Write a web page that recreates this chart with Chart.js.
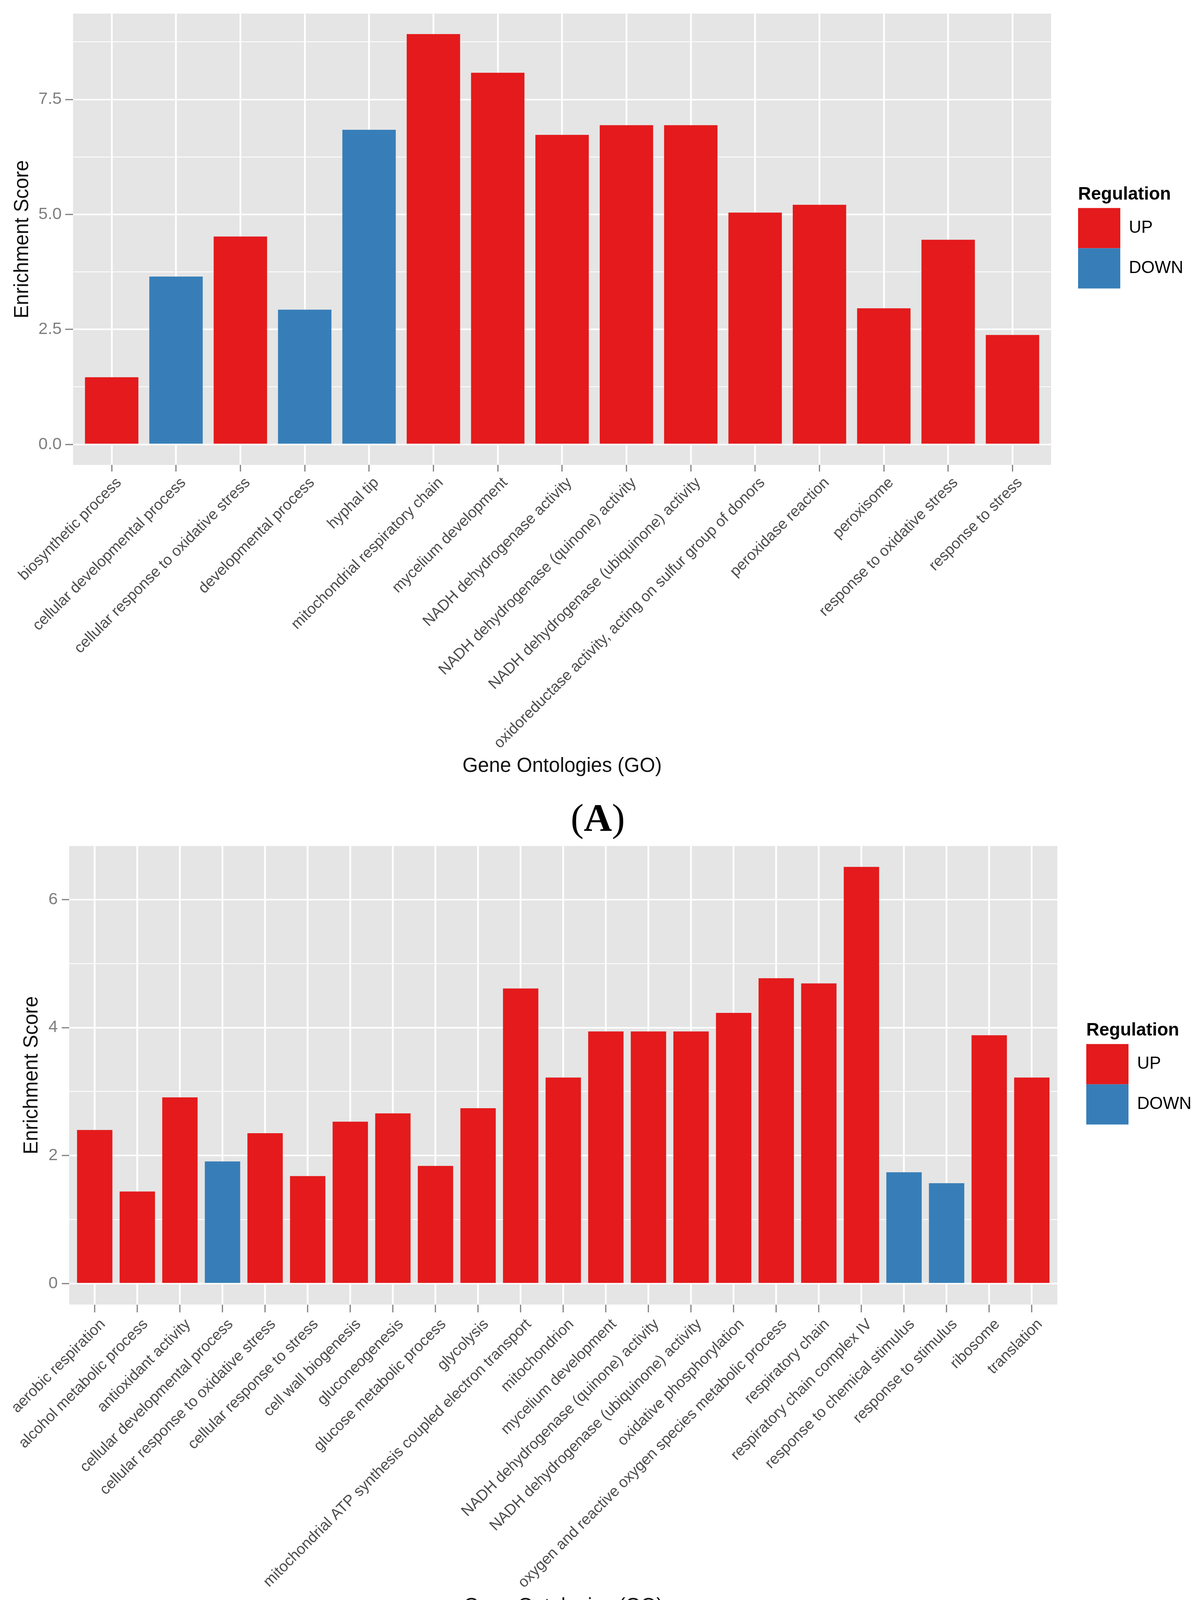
<!DOCTYPE html>
<html>
<head>
<meta charset="utf-8">
<title>GO enrichment scores</title>
<script src="https://cdn.jsdelivr.net/npm/chart.js@4.4.1/dist/chart.umd.min.js"></script>
<style>
  html, body { margin: 0; padding: 0; background: #fff; }
  #page { position: relative; width: 3048px; height: 4310px; overflow: hidden; }
  canvas { position: absolute; left: 0; }
  #chartA { top: 0; }
  #chartB { top: 2130px; }
  .tag {
    position: absolute; width: 400px; text-align: center;
    font-family: "Liberation Serif", "Times New Roman", serif;
    font-size: 100px; line-height: 100px; color: #000;
  }
</style>
</head>
<body>
<div id="page">
  <canvas id="chartA" width="3048" height="2010"></canvas>
  <canvas id="chartB" width="3048" height="2040"></canvas>
  <div class="tag" style="left:1330px; top:2044px;">(<b>A</b>)</div>
  <div class="tag" style="left:1328px; top:4192px;">(<b>B</b>)</div>
</div>
<script>
const regColors = { UP: '#e41a1c', DOWN: '#377eb8' };

// panel A
const goA = [
  'biosynthetic process', 'cellular developmental process', 'cellular response to oxidative stress',
  'developmental process', 'hyphal tip', 'mitochondrial respiratory chain', 'mycelium development',
  'NADH dehydrogenase activity', 'NADH dehydrogenase (quinone) activity',
  'NADH dehydrogenase (ubiquinone) activity', 'oxidoreductase activity, acting on sulfur group of donors',
  'peroxidase reaction', 'peroxisome', 'response to oxidative stress', 'response to stress'
];
const scoreA = [1.46, 3.65, 4.52, 2.93, 6.84, 8.92, 8.08, 6.73, 6.94, 6.94, 5.04, 5.21, 2.96, 4.45, 2.38];
const regA = ['UP', 'DOWN', 'UP', 'DOWN', 'DOWN', 'UP', 'UP', 'UP', 'UP', 'UP', 'UP', 'UP', 'UP', 'UP', 'UP'];
const yTicksA = [0, 2.5, 5, 7.5];
const yMinorA = [1.25, 3.75, 6.25, 8.75];
const yLabelsA = ['0.0', '2.5', '5.0', '7.5'];

// panel B
const goB = [
  'aerobic respiration', 'alcohol metabolic process', 'antioxidant activity', 'cellular developmental process',
  'cellular response to oxidative stress', 'cellular response to stress', 'cell wall biogenesis',
  'gluconeogenesis', 'glucose metabolic process', 'glycolysis',
  'mitochondrial ATP synthesis coupled electron transport', 'mitochondrion', 'mycelium development',
  'NADH dehydrogenase (quinone) activity', 'NADH dehydrogenase (ubiquinone) activity',
  'oxidative phosphorylation', 'oxygen and reactive oxygen species metabolic process',
  'respiratory chain', 'respiratory chain complex IV', 'response to chemical stimulus',
  'response to stimulus', 'ribosome', 'translation'
];
const scoreB = [2.40, 1.44, 2.91, 1.91, 2.35, 1.68, 2.53, 2.66, 1.84, 2.74, 4.61, 3.22,
                3.94, 3.94, 3.94, 4.23, 4.77, 4.69, 6.51, 1.74, 1.57, 3.88, 3.22];
const regB = ['UP', 'UP', 'UP', 'DOWN', 'UP', 'UP', 'UP', 'UP', 'UP', 'UP', 'UP', 'UP',
              'UP', 'UP', 'UP', 'UP', 'UP', 'UP', 'UP', 'DOWN', 'DOWN', 'UP', 'UP'];
const yTicksB = [0, 2, 4, 6];
const yMinorB = [1, 3, 5];
const yLabelsB = ['0', '2', '4', '6'];

const SANS = '"Liberation Sans", Arial, sans-serif';
const KEY_W = 108, KEY_H = 103, LEG_FONT = 44;

// grey ggplot-like panel behind the bars
const panelBg = {
  id: 'panelBg',
  beforeDraw(chart) {
    const { ctx, chartArea: a } = chart;
    ctx.save();
    ctx.fillStyle = '#e5e5e5';
    ctx.fillRect(a.left, a.top, a.right - a.left, a.bottom - a.top);
    ctx.restore();
  }
};

// legend width as Chart.js measures it, so the plot area can be pinned
function legendWidth() {
  const ctx = document.createElement('canvas').getContext('2d');
  ctx.font = LEG_FONT + 'px ' + SANS;
  const w = Math.max(ctx.measureText('UP').width, ctx.measureText('DOWN').width);
  return Math.ceil(KEY_W + LEG_FONT / 2 + w + 2);
}

function drawPanel(id, go, scores, reg, yMajor, yMinor, yLabels, lay) {
  const pad = 0.05 * Math.max(...scores);
  const pos = go.map((_, i) => i + 1);
  const yAll = yMajor.concat(yMinor).sort((a, b) => a - b);
  const isMajor = v => yMajor.indexOf(v) >= 0;
  const legW = legendWidth();
  const canvas = document.getElementById(id);
  const padRight = canvas.width - lay.plotRight - lay.gap - legW;

  return new Chart(canvas, {
    type: 'bar',
    data: {
      datasets: [{
        data: pos.map((x, i) => ({ x: x, y: scores[i] })),
        backgroundColor: reg.map(r => regColors[r]),
        borderWidth: 0,
        categoryPercentage: 0.83,
        barPercentage: 1,
        xAxisID: 'x',
        yAxisID: 'y'
      }]
    },
    options: {
      responsive: false,
      devicePixelRatio: 1,
      animation: false,
      events: [],
      layout: { padding: { top: lay.top, bottom: lay.bottom, left: 0, right: padRight } },
      scales: {
        x: {
          type: 'linear',
          position: 'bottom',
          offset: false,
          min: 0.4,
          max: go.length + 0.6,
          afterBuildTicks: s => { s.ticks = pos.map(v => ({ value: v })); },
          afterFit: s => { s.height = lay.xHeight; },
          grid: { offset: false, color: '#ffffff', lineWidth: 4.5, tickColor: '#7f7f7f', tickWidth: 3, tickLength: lay.tickLen },
          border: { display: false },
          ticks: {
            autoSkip: false,
            minRotation: 45,
            maxRotation: 45,
            padding: lay.tickPad,
            labelOffset: lay.labelOffset,
            color: '#4d4d4d',
            font: { family: SANS, size: 39 },
            callback: v => go[Math.round(v) - 1]
          },
          title: {
            display: true,
            text: 'Gene Ontologies (GO)',
            color: '#111',
            font: { family: SANS, size: 51 },
            padding: { top: 0, bottom: 0 }
          }
        },
        y: {
          type: 'linear',
          position: 'left',
          min: -pad,
          max: Math.max(...scores) + pad,
          afterBuildTicks: s => { s.ticks = yAll.map(v => ({ value: v })); },
          afterFit: s => { s.width = lay.yWidth; },
          grid: {
            color: '#ffffff',
            lineWidth: c => (c.tick && isMajor(c.tick.value)) ? 4 : 2,
            tickColor: c => (c.tick && isMajor(c.tick.value)) ? '#7f7f7f' : 'rgba(0,0,0,0)',
            tickWidth: 3,
            tickLength: lay.yTickLen
          },
          border: { display: false },
          ticks: {
            autoSkip: false,
            padding: lay.yTickPad,
            color: '#7f7f7f',
            font: { family: SANS, size: 43 },
            callback: v => { const k = yMajor.indexOf(v); return k >= 0 ? yLabels[k] : ''; }
          },
          title: {
            display: true,
            text: 'Enrichment Score',
            color: '#111',
            font: { family: SANS, size: 51 },
            padding: { top: lay.yTitlePad, bottom: 0 }
          }
        },
        // empty right axis, only keeps the gap between panel and legend
        gap: {
          type: 'linear',
          position: 'right',
          grid: { display: false },
          border: { display: false },
          ticks: { display: false },
          afterFit: s => { s.width = lay.gap; }
        }
      },
      plugins: {
        tooltip: { enabled: false },
        legend: {
          position: 'right',
          align: 'center',
          fullSize: false,
          maxWidth: legW,
          onClick: null,
          title: {
            display: true,
            text: 'Regulation',
            position: 'start',
            color: '#000',
            font: { family: SANS, size: 46, weight: 'bold' },
            padding: { top: -11, bottom: 2 }
          },
          labels: {
            boxWidth: KEY_W,
            boxHeight: KEY_H,
            padding: 0,
            color: '#1a1a1a',
            font: { family: SANS, size: LEG_FONT },
            generateLabels: () => ['UP', 'DOWN'].map(r => ({
              text: r, fillStyle: regColors[r], strokeStyle: regColors[r],
              lineWidth: 0, hidden: false, datasetIndex: 0
            }))
          }
        }
      }
    },
    plugins: [panelBg]
  });
}

drawPanel('chartA', goA, scoreA, regA, yTicksA, yMinorA, yLabelsA, {
  top: 21.4, bottom: 17.4, plotRight: 2690, yWidth: 187, xHeight: 802.4, gap: 69,
  yTitlePad: 27, tickLen: 17, tickPad: 6, labelOffset: 19, yTickLen: 20, yTickPad: 9
});
drawPanel('chartB', goB, scoreB, regB, yTicksB, yMinorB, yLabelsB, {
  top: 33.5, bottom: 26.4, plotRight: 2706, yWidth: 177, xHeight: 804, gap: 74,
  yTitlePad: 51.4, tickLen: 20, tickPad: 8, labelOffset: 21, yTickLen: 19, yTickPad: 10
});
</script>
</body>
</html>
